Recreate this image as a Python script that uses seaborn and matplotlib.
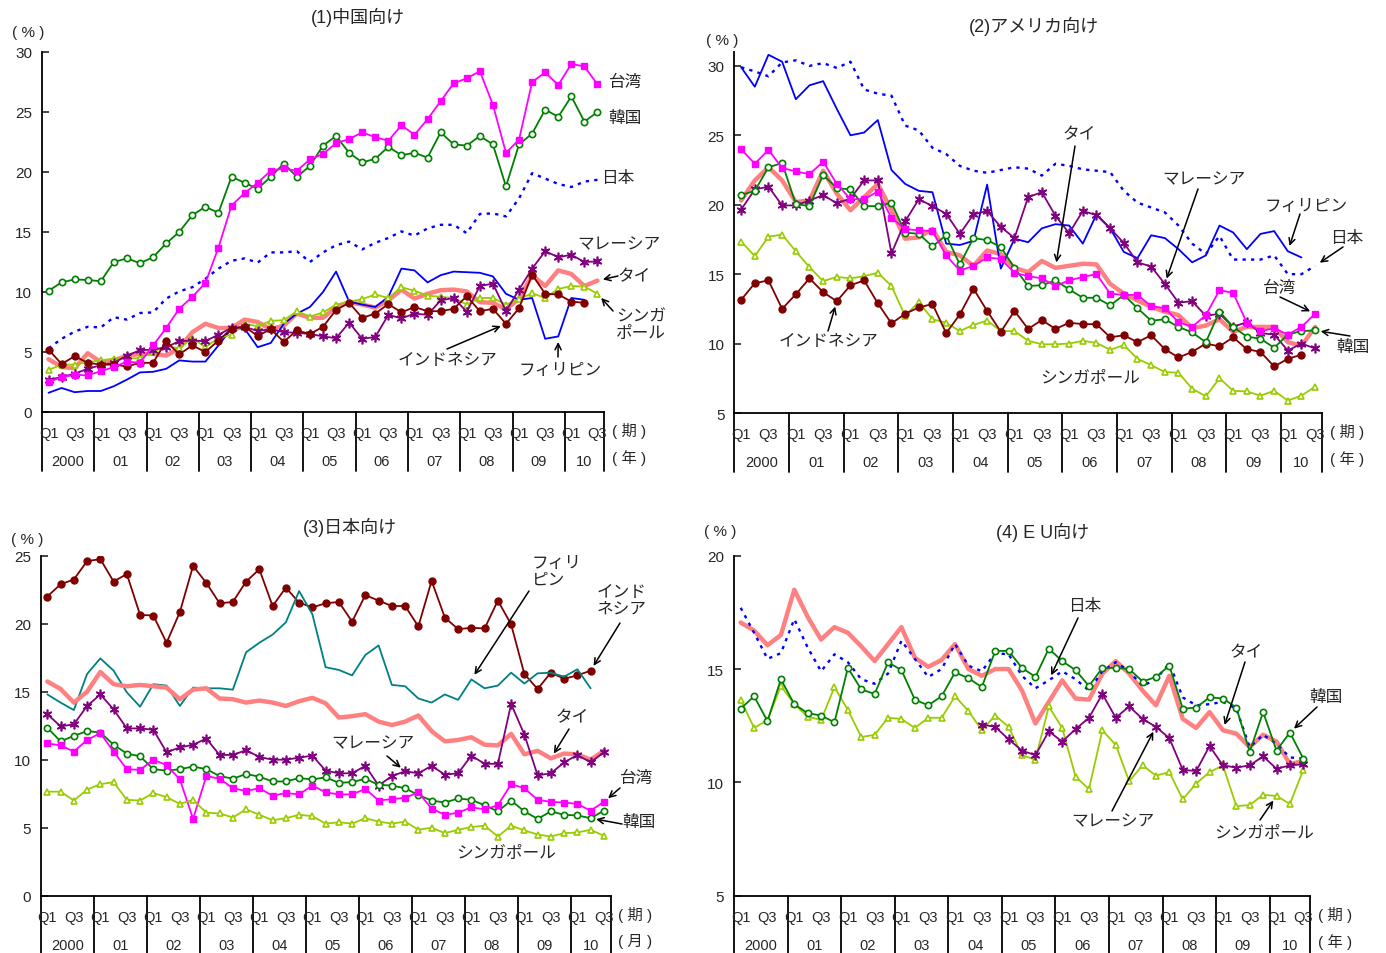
import numpy as np
import pandas as pd
import matplotlib
matplotlib.use("Agg")
import matplotlib.pyplot as plt
import seaborn as sns

# ---- data (share, %), quarterly 2000Q1 .. 2010Q3 ----
years = ["2000", "01", "02", "03", "04", "05", "06", "07", "08", "09", "10"]

# (1) exports to China
cn_taiwan = [2.5, 2.9, 3.1, 3.05, 3.4, 3.75, 4.2, 4.1, 5.55, 7.0, 8.6, 9.6, 10.75, 13.7, 17.2, 18.25, 19.1, 20.1, 20.3, 20.1, 21.05, 21.5, 22.4, 22.75, 23.3, 22.9, 22.6, 23.9, 23.1, 24.4, 25.9, 27.4, 27.8, 28.4, 25.6, 21.6, 22.7, 27.5, 28.3, 27.25, 29.0, 28.8, 27.3]
cn_korea = [10.1, 10.8, 11.05, 11.0, 10.9, 12.5, 12.8, 12.4, 12.9, 14.05, 15.0, 16.4, 17.1, 16.6, 19.6, 19.1, 18.6, 19.6, 20.7, 19.6, 20.5, 22.2, 23.0, 21.6, 20.8, 21.1, 22.1, 21.4, 21.6, 21.2, 23.3, 22.3, 22.2, 23.0, 22.3, 18.8, 22.3, 23.2, 25.2, 24.6, 26.3, 24.2, 25.0]
cn_japan = [5.3, 6.1, 6.7, 7.1, 7.05, 7.9, 7.7, 8.25, 8.3, 9.45, 10.05, 10.4, 11.1, 11.95, 12.6, 12.8, 12.45, 13.3, 13.3, 13.4, 12.5, 13.3, 13.9, 14.2, 13.55, 14.1, 14.5, 15.05, 14.7, 15.3, 15.6, 15.6, 14.9, 16.5, 16.55, 16.3, 17.8, 19.9, 19.45, 19.0, 18.75, 19.2, 19.35]
cn_philippines = [1.6, 2.0, 1.65, 1.75, 1.75, 2.15, 2.7, 3.3, 3.35, 3.6, 4.3, 4.2, 4.2, 5.55, 6.95, 6.95, 5.4, 5.75, 7.35, 8.2, 8.75, 10.0, 11.7, 9.2, 8.95, 8.75, 9.6, 11.95, 11.8, 10.8, 11.4, 11.7, 11.65, 11.6, 11.3, 9.85, 9.35, 9.5, 6.1, 6.3, 9.5, 9.35]
cn_thailand = [4.4, 3.75, 3.65, 4.9, 4.15, 4.3, 4.7, 4.85, 4.85, 4.7, 5.3, 6.65, 7.35, 7.0, 7.0, 7.7, 7.5, 6.9, 7.2, 8.2, 7.85, 7.85, 8.75, 9.15, 8.95, 8.7, 9.3, 10.2, 9.45, 9.85, 10.15, 10.2, 10.05, 9.15, 9.1, 8.55, 9.45, 11.4, 10.5, 11.8, 11.5, 10.5, 10.95]
cn_singapore = [3.5, 3.95, 3.95, 4.15, 4.3, 4.45, 4.45, 4.5, 5.0, 5.5, 5.3, 6.15, 5.4, 6.15, 6.45, 7.35, 7.15, 7.6, 7.65, 8.4, 7.95, 8.3, 8.95, 9.2, 9.4, 9.8, 9.5, 10.4, 10.1, 9.7, 9.6, 9.5, 8.95, 9.5, 9.5, 8.95, 9.4, 9.9, 9.5, 10.25, 10.5, 10.45, 9.85]
cn_malaysia = [2.7, 2.9, 3.2, 3.6, 3.9, 4.1, 4.7, 5.15, 5.2, 5.4, 5.9, 5.95, 5.9, 6.45, 7.0, 7.1, 6.75, 6.9, 6.65, 6.6, 6.5, 6.3, 6.15, 7.45, 6.1, 6.25, 8.1, 7.8, 8.2, 8.1, 9.3, 9.5, 8.35, 10.5, 10.7, 8.4, 10.2, 11.95, 13.4, 12.9, 13.1, 12.5, 12.55]
cn_indonesia = [5.2, 4.0, 4.65, 4.1, 3.95, 3.95, 3.8, 4.1, 4.1, 5.9, 4.8, 5.55, 5.0, 5.95, 6.95, 7.1, 6.35, 6.9, 5.85, 6.8, 6.5, 7.1, 8.5, 9.1, 7.85, 8.2, 9.0, 8.3, 8.75, 8.4, 8.4, 8.6, 9.65, 8.4, 8.6, 7.35, 8.65, 11.45, 9.85, 9.8, 9.2, 9.1]

# (2) exports to the US
us_philippines = [29.9, 28.5, 30.8, 30.3, 27.6, 28.6, 28.9, 26.9, 25.0, 25.2, 26.1, 22.5, 21.5, 21.0, 20.9, 17.2, 17.1, 17.4, 21.45, 15.4, 17.55, 17.3, 18.3, 18.6, 18.5, 17.2, 19.3, 18.3, 16.6, 16.15, 17.8, 17.6, 16.8, 15.85, 16.35, 18.5, 18.0, 16.8, 17.9, 18.1, 16.65, 16.2]
us_japan = [29.9, 29.6, 29.25, 30.25, 30.4, 30.0, 30.2, 29.85, 30.3, 28.3, 28.0, 27.85, 25.7, 25.35, 24.1, 23.65, 22.8, 22.45, 22.3, 22.5, 22.7, 22.6, 22.1, 22.95, 22.8, 22.55, 22.45, 22.35, 21.0, 20.15, 19.8, 19.45, 18.5, 17.2, 16.45, 17.75, 16.05, 16.05, 16.05, 16.35, 15.0, 15.0, 15.6]
us_taiwan = [24.0, 22.95, 23.95, 22.65, 22.4, 22.2, 23.1, 21.5, 20.4, 20.4, 20.95, 19.05, 18.25, 18.15, 18.1, 16.35, 15.25, 15.6, 16.2, 16.1, 15.1, 14.85, 14.7, 14.15, 14.55, 14.8, 15.0, 13.6, 13.5, 13.5, 12.7, 12.55, 11.55, 11.2, 12.05, 13.85, 13.65, 11.5, 10.9, 11.1, 10.65, 11.2, 12.15]
us_korea = [20.7, 21.0, 22.7, 23.0, 20.05, 19.9, 22.15, 21.2, 21.1, 19.9, 19.9, 20.15, 18.0, 17.9, 17.0, 17.8, 15.7, 17.6, 17.45, 16.95, 15.45, 14.15, 14.2, 14.55, 13.9, 13.3, 13.3, 12.75, 13.5, 12.55, 11.65, 11.75, 11.2, 10.8, 10.1, 12.3, 11.2, 10.5, 10.35, 9.7, 10.65, 10.9, 10.95]
us_thailand = [20.3, 21.75, 22.7, 21.75, 20.2, 20.3, 22.45, 20.8, 19.6, 20.55, 21.5, 19.6, 17.55, 17.65, 18.25, 16.6, 16.35, 15.6, 16.7, 16.45, 15.45, 15.15, 15.95, 15.45, 15.6, 15.75, 15.7, 14.3, 13.6, 13.1, 12.65, 12.3, 12.05, 11.1, 11.3, 11.75, 10.85, 11.2, 11.2, 11.2, 10.1, 9.85, 11.2]
us_malaysia = [19.65, 21.1, 21.3, 19.95, 19.95, 20.3, 20.7, 20.1, 20.45, 21.75, 21.75, 16.5, 18.8, 20.4, 19.9, 19.35, 17.9, 19.3, 19.55, 18.4, 17.6, 20.55, 20.9, 19.2, 17.95, 19.55, 19.25, 18.3, 17.25, 15.85, 15.55, 14.3, 12.95, 13.05, 12.0, 12.15, 11.2, 11.55, 10.75, 10.65, 9.5, 10.0, 9.65]
us_indonesia = [13.15, 14.35, 14.55, 12.5, 13.55, 14.7, 13.7, 13.05, 14.2, 14.55, 12.9, 11.45, 12.15, 12.6, 12.85, 10.75, 12.1, 13.95, 12.35, 10.85, 12.35, 11.05, 11.7, 11.05, 11.5, 11.4, 11.4, 10.45, 10.6, 10.1, 10.6, 9.6, 9.0, 9.4, 10.0, 9.8, 10.45, 9.6, 9.4, 8.35, 8.9, 9.2]
us_singapore = [17.35, 16.3, 17.7, 17.85, 16.65, 15.5, 14.5, 14.8, 14.7, 14.85, 15.1, 14.15, 12.0, 13.0, 11.75, 11.5, 10.9, 11.35, 11.65, 10.9, 10.9, 10.2, 9.95, 9.95, 10.0, 10.2, 10.05, 9.55, 9.9, 8.9, 8.45, 7.95, 7.9, 6.75, 6.2, 7.5, 6.6, 6.55, 6.25, 6.6, 5.9, 6.25, 6.9]

# (3) exports to Japan
jp_indonesia = [22.0, 22.9, 23.25, 24.6, 24.75, 23.1, 23.65, 20.65, 20.6, 18.6, 20.85, 24.25, 23.0, 21.5, 21.6, 23.1, 24.0, 21.3, 22.65, 21.55, 21.2, 21.5, 21.6, 20.15, 22.1, 21.7, 21.3, 21.3, 19.8, 23.15, 20.45, 19.6, 19.7, 19.65, 21.7, 19.95, 16.3, 15.2, 16.4, 15.95, 16.2, 16.55]
jp_philippines = [14.8, 14.2, 13.65, 16.3, 17.45, 16.55, 14.95, 13.9, 15.55, 15.45, 13.95, 15.3, 15.25, 15.25, 15.15, 17.9, 18.6, 19.2, 20.1, 22.4, 20.7, 16.8, 16.6, 16.2, 17.7, 18.4, 15.5, 15.4, 14.5, 14.2, 14.8, 14.4, 15.9, 15.25, 15.45, 16.4, 15.6, 16.35, 16.4, 16.1, 16.65, 15.25]
jp_thailand = [15.75, 15.2, 14.2, 15.0, 16.45, 15.55, 15.4, 15.5, 15.4, 15.3, 14.45, 15.15, 15.25, 14.5, 14.45, 14.2, 14.35, 14.2, 13.95, 14.3, 14.55, 14.15, 13.1, 13.2, 13.35, 12.8, 12.55, 12.8, 13.25, 12.1, 11.35, 11.45, 11.65, 11.1, 11.05, 11.9, 10.4, 10.65, 10.1, 10.45, 10.4, 10.0, 10.65]
jp_malaysia = [13.35, 12.45, 12.6, 13.95, 14.8, 13.7, 12.3, 12.3, 12.2, 10.55, 10.9, 11.1, 11.55, 10.35, 10.35, 10.7, 10.2, 10.0, 10.0, 10.15, 10.3, 9.2, 9.0, 9.0, 9.55, 8.1, 8.8, 9.15, 9.0, 9.55, 8.9, 9.0, 10.3, 9.7, 9.7, 14.1, 11.85, 8.85, 9.0, 9.8, 10.35, 9.8, 10.55]
jp_korea = [12.35, 11.35, 11.75, 12.1, 12.0, 11.1, 10.45, 10.25, 9.3, 9.2, 9.3, 9.5, 9.3, 8.8, 8.6, 8.95, 8.75, 8.4, 8.4, 8.65, 8.55, 8.7, 8.3, 8.35, 8.6, 8.15, 8.1, 7.9, 7.4, 7.0, 6.85, 7.15, 7.05, 6.65, 6.2, 7.0, 6.2, 5.65, 6.2, 5.95, 5.9, 5.7, 6.25]
jp_taiwan = [11.2, 11.05, 10.6, 11.45, 11.95, 10.6, 9.3, 9.25, 10.0, 9.6, 8.55, 5.65, 8.8, 8.6, 7.9, 7.7, 7.9, 7.35, 7.55, 7.45, 8.1, 7.6, 7.45, 7.45, 7.85, 7.0, 7.1, 7.2, 7.6, 6.4, 5.95, 6.1, 6.5, 6.35, 6.65, 8.2, 7.9, 7.05, 6.9, 6.85, 6.75, 6.25, 6.9]
jp_singapore = [7.65, 7.65, 7.0, 7.8, 8.2, 8.35, 7.05, 7.0, 7.55, 7.25, 6.75, 7.05, 6.1, 6.05, 5.75, 6.35, 5.95, 5.55, 5.7, 5.95, 5.85, 5.3, 5.4, 5.3, 5.7, 5.45, 5.3, 5.45, 4.85, 5.0, 4.6, 4.85, 5.05, 5.15, 4.35, 5.15, 4.8, 4.5, 4.35, 4.6, 4.65, 4.85, 4.4]

# (4) exports to the EU
eu_thailand = [17.05, 16.7, 16.05, 16.5, 18.5, 17.3, 16.3, 16.85, 16.6, 16.0, 15.35, 16.1, 16.85, 15.5, 15.1, 15.4, 16.1, 15.0, 14.7, 15.0, 15.0, 14.05, 12.6, 13.55, 14.5, 13.7, 13.65, 14.8, 15.35, 14.8, 14.05, 13.4, 14.7, 12.8, 12.4, 13.1, 12.3, 12.15, 11.55, 12.1, 11.8, 10.8, 10.95]
eu_japan = [17.7, 16.6, 15.45, 15.7, 17.2, 15.95, 14.9, 15.65, 15.3, 14.55, 14.35, 14.8, 16.25, 15.45, 14.65, 15.0, 16.1, 15.15, 14.9, 15.7, 15.65, 14.7, 14.15, 14.5, 14.9, 14.55, 14.05, 14.9, 15.3, 14.9, 14.25, 14.55, 15.25, 13.75, 13.4, 13.45, 13.55, 13.25, 11.55, 12.1, 11.7, 11.1, 11.05]
eu_korea = [13.25, 13.8, 12.7, 14.55, 13.45, 13.05, 12.95, 12.65, 15.05, 14.1, 13.9, 15.3, 14.95, 13.65, 13.4, 13.8, 14.85, 14.6, 14.2, 15.8, 15.8, 15.05, 14.65, 15.9, 15.35, 14.95, 14.25, 15.05, 15.05, 15.0, 14.45, 14.65, 15.15, 13.25, 13.3, 13.75, 13.7, 13.3, 11.35, 13.1, 11.4, 12.2, 11.05]
eu_singapore = [13.65, 12.4, 12.75, 14.25, 13.45, 12.9, 12.75, 14.2, 13.2, 12.0, 12.1, 12.85, 12.8, 12.4, 12.85, 12.85, 13.8, 13.15, 12.3, 12.95, 12.45, 11.2, 11.0, 13.35, 12.4, 10.25, 9.7, 12.3, 11.65, 10.05, 10.75, 10.3, 10.45, 9.25, 9.95, 10.45, 10.75, 8.95, 9.0, 9.45, 9.4, 9.05, 10.55]
eu_malaysia = [np.nan] * 18 + [12.55, 12.45, 11.9, 11.4, 11.2, 12.25, 11.8, 12.35, 12.85, 13.9, 12.85, 13.35, 12.8, 12.45, 11.95, 10.55, 10.5, 11.6, 10.75, 10.65, 10.75, 11.15, 10.6, 10.75, 10.8]

# ---- styles ----
JAPAN = dict(color="#0000FF", linewidth=1.7, linestyle=(0, (1.4, 2.2)))
PHIL = dict(color="#0000FF", linewidth=1.3)
PHIL_TEAL = dict(color="#008080", linewidth=1.3)
TAIWAN = dict(color="#FF00FF", linewidth=1.3, marker="s", markersize=4.5,
              markerfacecolor="#FF00FF", mec="#FF00FF", mew=1)
KOREA = dict(color="#008000", linewidth=1.3, marker="o", markersize=4.5,
             markerfacecolor="white", mec="#008000", mew=1.2)
THAI = dict(color="#FF8080", linewidth=3.2)
SING = dict(color="#99CC00", linewidth=1.3, marker="^", markersize=4.5,
            markerfacecolor="white", mec="#99CC00", mew=1.2)
MALAY = dict(color="#800080", linewidth=1.3, marker=(6, 2, 0), markersize=7,
             mec="#800080", mew=1.2)
INDO = dict(color="#800000", linewidth=1.3, marker="o", markersize=5,
            markerfacecolor="#800000", mec="#800000", mew=1)

sns.set_style("white")
plt.rcParams["font.family"] = ["Liberation Sans", "Noto Sans CJK JP", "DejaVu Sans"]

W, H = 1386, 954
fig = plt.figure(figsize=(W / 100, H / 100), dpi=100)


def draw(ax, vals, st):
    df = pd.DataFrame({"q": np.arange(len(vals)), "v": vals}).dropna()
    sns.lineplot(data=df, x="q", y="v", ax=ax, legend=False, errorbar=None, **st)


def label(x, y, s, size=12, ha="center"):
    fig.text(x / W, 1 - y / H, s, ha=ha, va="center", fontsize=size, linespacing=1.15)


def arrow(ax, tail, i, vals):
    ax.annotate("", xy=(i, vals[i]), xycoords="data",
                xytext=(tail[0], H - tail[1]), textcoords="figure pixels",
                arrowprops=dict(arrowstyle="->", color="black", lw=1.1,
                                shrinkA=0, shrinkB=4, mutation_scale=11))


def setup(ax, ylim, yticks, unit):
    ax.set_xlim(-0.5, 42.5)
    ax.set_ylim(*ylim)
    ax.set_yticks(yticks)
    ax.set_xticks([])
    ax.set_xlabel("")
    ax.set_ylabel("")
    for s in ["top", "right"]:
        ax.spines[s].set_visible(False)
    for s in ["left", "bottom"]:
        ax.spines[s].set_color("black")
        ax.spines[s].set_linewidth(1.3)
    ax.tick_params(axis="y", left=True, direction="in", length=5, width=1.2,
                   labelsize=11, pad=7)
    tr = ax.get_xaxis_transform()
    hpx = ax.bbox.height
    bounds = [4 * k - 0.5 for k in range(11)] + [42.5]
    for b in bounds:
        ax.plot([b, b], [0, -59 / hpx], transform=tr, clip_on=False,
                color="black", lw=1.3)
    for i in range(43):
        if i % 4 in (0, 2):
            ax.text(i, -21 / hpx, "Q1" if i % 4 == 0 else "Q3", transform=tr,
                    ha="center", va="center", fontsize=10.5)
    for k, yr in enumerate(years):
        qs = list(range(4 * k, min(4 * k + 4, 43)))
        ax.text(np.mean(qs), -49 / hpx, yr, transform=tr, ha="center",
                va="center", fontsize=10.5)
    bb = ax.get_position()
    xr = (bb.x1 * W) + 25
    yb = (1 - bb.y0) * H
    label(xr, yb + 18, "( 期 )", size=11)
    label(xr, yb + 45, unit, size=11)


# ---- (1) China ----
ax1 = fig.add_axes([42 / W, 1 - 413 / H, 562 / W, 360 / H])
for vals, st in [(cn_thailand, THAI), (cn_japan, JAPAN), (cn_philippines, PHIL),
                 (cn_singapore, SING), (cn_malaysia, MALAY), (cn_indonesia, INDO),
                 (cn_korea, KOREA), (cn_taiwan, TAIWAN)]:
    draw(ax1, vals, st)
setup(ax1, (0, 30), range(0, 31, 5), "( 年 )")
label(358, 17, "(1)中国向け", size=13)
label(28, 33, "( % )", size=11)
label(626, 82, "台湾")
label(625, 119, "韓国")
label(618, 179, "日本")
label(619, 245, "マレーシア")
label(634, 277, "タイ")
arrow(ax1, (618, 277), 42, cn_thailand)
label(616, 325, "シンガ\nポール", ha="left")
arrow(ax1, (613, 312), 42, cn_singapore)
label(447, 360, "インドネシア")
arrow(ax1, (447, 350), 35, cn_indonesia)
label(560, 370, "フィリピン")
arrow(ax1, (558, 358), 39, cn_philippines)

# ---- (2) USA ----
ax2 = fig.add_axes([734.3 / W, 1 - 414 / H, 587.7 / W, 361 / H])
for vals, st in [(us_thailand, THAI), (us_japan, JAPAN), (us_philippines, PHIL),
                 (us_singapore, SING), (us_indonesia, INDO), (us_malaysia, MALAY),
                 (us_korea, KOREA), (us_taiwan, TAIWAN)]:
    draw(ax2, vals, st)
setup(ax2, (5, 31), range(5, 31, 5), "( 年 )")
label(1034, 26, "(2)アメリカ向け", size=13)
label(722, 41, "( % )", size=11)
label(1079, 135, "タイ")
arrow(ax2, (1075, 147), 23, us_thailand)
label(1204, 180, "マレーシア")
arrow(ax2, (1198, 190), 31, us_malaysia)
label(1306, 207, "フィリピン")
arrow(ax2, (1300, 215), 40, us_philippines)
label(1347, 238, "日本")
arrow(ax2, (1343, 248), 42, us_japan)
label(1280, 288, "台湾")
arrow(ax2, (1280, 298), 42, us_taiwan)
label(1353, 348, "韓国")
arrow(ax2, (1350, 337), 42, us_korea)
label(828, 342, "インドネシア")
arrow(ax2, (828, 332), 7, us_indonesia)
label(1090, 378, "シンガポール")

# ---- (3) Japan ----
ax3 = fig.add_axes([40.7 / W, 1 - 896.7 / H, 569.8 / W, 340 / H])
for vals, st in [(jp_indonesia, INDO), (jp_philippines, PHIL_TEAL), (jp_thailand, THAI),
                 (jp_malaysia, MALAY), (jp_korea, KOREA), (jp_taiwan, TAIWAN),
                 (jp_singapore, SING)]:
    draw(ax3, vals, st)
setup(ax3, (0, 25), range(0, 26, 5), "( 月 )")
label(350, 527, "(3)日本向け", size=13)
label(27, 540, "( % )", size=11)
label(532, 572, "フィリ\nピン", ha="left")
arrow(ax3, (529, 592), 32, jp_philippines)
label(622, 601, "インド\nネシア")
arrow(ax3, (620, 624), 41, jp_indonesia)
label(572, 718, "タイ")
arrow(ax3, (569, 730), 38, jp_thailand)
label(373, 744, "マレーシア")
arrow(ax3, (387, 757), 27, jp_malaysia)
label(637, 778, "台湾")
arrow(ax3, (620, 789), 42, jp_taiwan)
label(639, 823, "韓国")
arrow(ax3, (622, 825), 41, jp_korea)
label(506, 853, "シンガポール")

# ---- (4) EU ----
ax4 = fig.add_axes([734 / W, 1 - 896.7 / H, 576 / W, 340 / H])
for vals, st in [(eu_thailand, THAI), (eu_japan, JAPAN), (eu_singapore, SING),
                 (eu_malaysia, MALAY), (eu_korea, KOREA)]:
    draw(ax4, vals, st)
setup(ax4, (5, 20), range(5, 21, 5), "( 年 )")
label(1043, 532, "(4) E U向け", size=13)
label(720, 532, "( % )", size=11)
label(1085, 607, "日本")
arrow(ax4, (1078, 619), 23, eu_japan)
label(1246, 653, "タイ")
arrow(ax4, (1245, 663), 36, eu_thailand)
label(1326, 698, "韓国")
arrow(ax4, (1317, 708), 41, eu_korea)
label(1113, 822, "マレーシア")
arrow(ax4, (1112, 812), 31, eu_malaysia)
label(1264, 833, "シンガポール")
arrow(ax4, (1260, 821), 40, eu_singapore)

fig.savefig("out.png", dpi=100, facecolor="white")
